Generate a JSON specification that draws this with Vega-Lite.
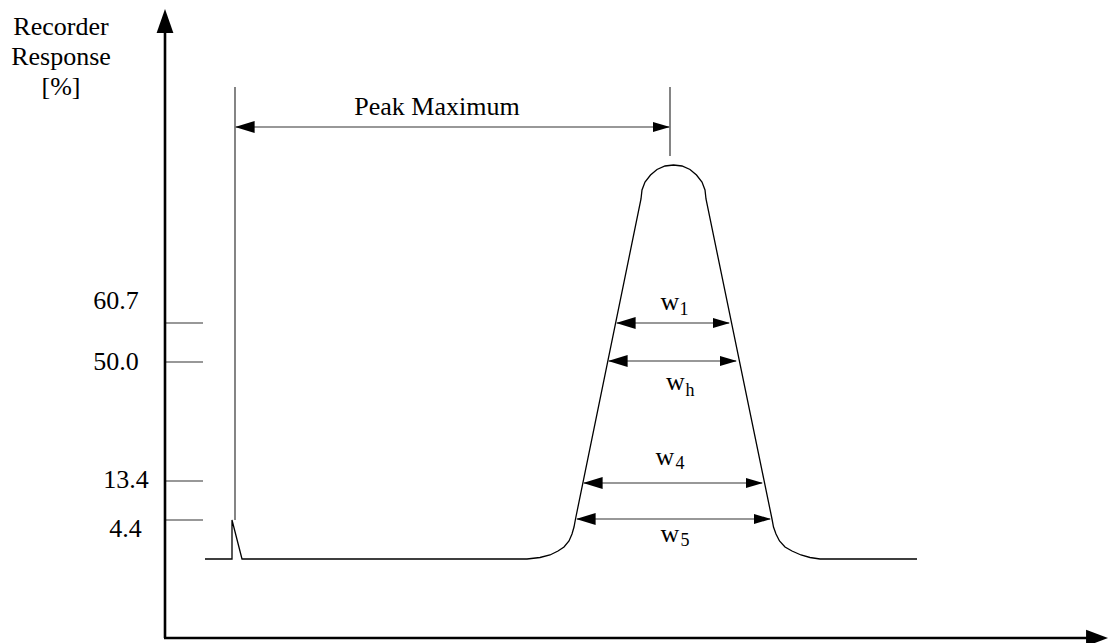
{
  "$schema": "https://vega.github.io/schema/vega-lite/v6.json",
  "width": 1109,
  "height": 643,
  "autosize": "none",
  "padding": 0,
  "background": "white",
  "config": {"view": {"stroke": null}},
  "datasets": {
    "curve": [
      {"i": 0, "x": 205, "y": 559}, {"i": 1, "x": 232, "y": 559}, {"i": 2, "x": 232, "y": 520}, {"i": 3, "x": 242, "y": 559},
      {"i": 4, "x": 527, "y": 559}, {"i": 5, "x": 540, "y": 557.5}, {"i": 6, "x": 550, "y": 555}, {"i": 7, "x": 558, "y": 551},
      {"i": 8, "x": 564, "y": 547}, {"i": 9, "x": 569, "y": 541}, {"i": 10, "x": 572, "y": 534}, {"i": 11, "x": 574, "y": 527},
      {"i": 12, "x": 575.5, "y": 519}, {"i": 13, "x": 641, "y": 199}, {"i": 14, "x": 642, "y": 190}, {"i": 15, "x": 645, "y": 182},
      {"i": 16, "x": 650.5, "y": 175}, {"i": 17, "x": 657, "y": 169.5}, {"i": 18, "x": 665, "y": 166}, {"i": 19, "x": 673.5, "y": 165},
      {"i": 20, "x": 682, "y": 166}, {"i": 21, "x": 690, "y": 169.5}, {"i": 22, "x": 696.5, "y": 175}, {"i": 23, "x": 702, "y": 182},
      {"i": 24, "x": 705, "y": 190}, {"i": 25, "x": 706, "y": 199}, {"i": 26, "x": 772, "y": 519}, {"i": 27, "x": 773.5, "y": 527},
      {"i": 28, "x": 776, "y": 534}, {"i": 29, "x": 779.5, "y": 541}, {"i": 30, "x": 785, "y": 547}, {"i": 31, "x": 792, "y": 551},
      {"i": 32, "x": 801, "y": 555}, {"i": 33, "x": 810, "y": 557.5}, {"i": 34, "x": 820, "y": 559}, {"i": 35, "x": 917, "y": 559}
    ],
    "segs": [
      {"k": "axis", "x": 165, "y": 30, "x2": 165, "y2": 638},
      {"k": "axis", "x": 164, "y": 638, "x2": 1095, "y2": 638},
      {"k": "thin", "x": 166, "y": 323, "x2": 203, "y2": 323},
      {"k": "thin", "x": 166, "y": 362, "x2": 203, "y2": 362},
      {"k": "thin", "x": 166, "y": 481, "x2": 203, "y2": 481},
      {"k": "thin", "x": 166, "y": 520, "x2": 203, "y2": 520},
      {"k": "thin", "x": 235, "y": 87, "x2": 235, "y2": 520},
      {"k": "thin", "x": 670, "y": 87, "x2": 670, "y2": 156},
      {"k": "thin", "x": 236, "y": 127, "x2": 669, "y2": 127},
      {"k": "thin", "x": 617, "y": 323, "x2": 729, "y2": 323},
      {"k": "thin", "x": 609, "y": 361, "x2": 736, "y2": 361},
      {"k": "thin", "x": 584, "y": 483, "x2": 762, "y2": 483},
      {"k": "thin", "x": 577, "y": 519, "x2": 770, "y2": 519}
    ],
    "heads": [
      {"h": "axisUp", "x": 165, "y": 9},
      {"h": "axisR", "x": 1108, "y": 638},
      {"h": "dimL", "x": 235, "y": 127}, {"h": "dimR", "x": 670, "y": 127},
      {"h": "dimL", "x": 616, "y": 323}, {"h": "dimR", "x": 730, "y": 323},
      {"h": "dimL", "x": 608, "y": 361}, {"h": "dimR", "x": 737, "y": 361},
      {"h": "dimL", "x": 583, "y": 483}, {"h": "dimR", "x": 763, "y": 483},
      {"h": "dimL", "x": 576, "y": 519}, {"h": "dimR", "x": 771, "y": 519}
    ],
    "labels": [
      {"r": "main", "t": "Recorder", "x": 61, "y": 35},
      {"r": "main", "t": "Response", "x": 61, "y": 65},
      {"r": "main", "t": "[%]", "x": 61, "y": 95},
      {"r": "main", "t": "Peak Maximum", "x": 437, "y": 115},
      {"r": "main", "t": "60.7", "x": 116, "y": 309},
      {"r": "main", "t": "50.0", "x": 116, "y": 370},
      {"r": "main", "t": "13.4", "x": 126, "y": 488},
      {"r": "main", "t": "4.4", "x": 125.5, "y": 537},
      {"r": "main", "t": "w", "x": 670, "y": 310},
      {"r": "main", "t": "w", "x": 675.5, "y": 390},
      {"r": "main", "t": "w", "x": 665, "y": 465},
      {"r": "main", "t": "w", "x": 670, "y": 542},
      {"r": "sub", "t": "1", "x": 684, "y": 315},
      {"r": "sub", "t": "h", "x": 690, "y": 396},
      {"r": "sub", "t": "4", "x": 680, "y": 469},
      {"r": "sub", "t": "5", "x": 685, "y": 546}
    ]
  },
  "encoding": {
    "x": {"field": "x", "type": "quantitative", "scale": {"domain": [0, 1109], "nice": false, "zero": false}, "axis": null},
    "y": {"field": "y", "type": "quantitative", "scale": {"domain": [0, 643], "reverse": true, "nice": false, "zero": false}, "axis": null}
  },
  "layer": [
    {
      "data": {"name": "segs"},
      "transform": [{"filter": "datum.k === 'thin'"}],
      "mark": {"type": "rule", "color": "#333333", "strokeWidth": 1.2},
      "encoding": {"x2": {"field": "x2"}, "y2": {"field": "y2"}}
    },
    {
      "data": {"name": "segs"},
      "transform": [{"filter": "datum.k === 'axis'"}],
      "mark": {"type": "rule", "color": "#000000", "strokeWidth": 2.6},
      "encoding": {"x2": {"field": "x2"}, "y2": {"field": "y2"}}
    },
    {
      "data": {"name": "curve"},
      "mark": {"type": "line", "color": "#000000", "strokeWidth": 1.3},
      "encoding": {"order": {"field": "i", "type": "quantitative"}}
    },
    {
      "data": {"name": "heads"},
      "mark": {"type": "point", "filled": true, "opacity": 1, "color": "#000000", "strokeWidth": 0},
      "encoding": {
        "shape": {"field": "h", "type": "nominal", "legend": null,
          "scale": {"domain": ["axisUp", "axisR", "dimL", "dimR"],
                    "range": ["M0,0L-0.35,1L0.35,1Z", "M0,0L-1,-0.38L-1,0.38Z", "M0,0L1,-0.3L1,0.3Z", "M0,0L-1,-0.3L-1,0.3Z"]}},
        "size": {"field": "h", "type": "nominal", "legend": null,
          "scale": {"domain": ["axisUp", "axisR", "dimL", "dimR"], "range": [2304, 1156, 1296, 1296]}}
      }
    },
    {
      "data": {"name": "labels"},
      "transform": [{"filter": "datum.r === 'main'"}],
      "mark": {"type": "text", "font": "Liberation Serif", "fontSize": 26, "align": "center", "baseline": "alphabetic", "color": "#000000"},
      "encoding": {"text": {"field": "t", "type": "nominal"}}
    },
    {
      "data": {"name": "labels"},
      "transform": [{"filter": "datum.r === 'sub'"}],
      "mark": {"type": "text", "font": "Liberation Serif", "fontSize": 18, "align": "center", "baseline": "alphabetic", "color": "#000000"},
      "encoding": {"text": {"field": "t", "type": "nominal"}}
    }
  ]
}
